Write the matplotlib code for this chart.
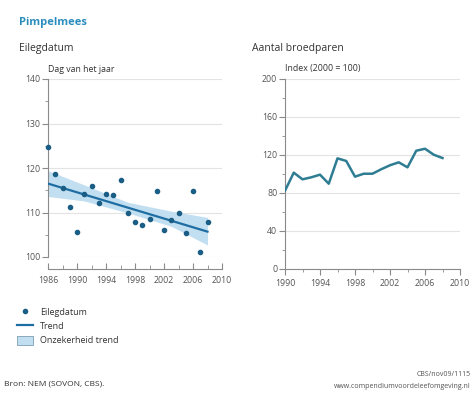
import matplotlib
matplotlib.use("Agg")
import matplotlib.pyplot as plt
from matplotlib.lines import Line2D
from matplotlib.patches import Patch
from matplotlib.ticker import MultipleLocator, FixedLocator

plt.rcParams['font.family'] = ['Open Sans', 'DejaVu Sans']

# Left panel: egg laying date (day of year)
egg_years = [1986, 1987, 1988, 1989, 1990, 1991, 1992, 1993, 1994, 1995, 1996,
             1997, 1998, 1999, 2000, 2001, 2002, 2003, 2004, 2005, 2006, 2007, 2008]
egg_days = [124.7, 118.7, 115.4, 111.2, 105.6, 114.1, 116.0, 112.2, 114.2, 114.0, 117.2,
            109.8, 107.8, 107.3, 108.6, 114.8, 106.1, 108.3, 110.0, 105.4, 114.8, 101.1, 107.8]
trend_years = [1986, 2008]
trend_vals = [116.5, 105.7]
band_years = [1986, 1991, 1997, 2003, 2008]
band_lower = [113.6, 112.6, 109.9, 106.9, 102.7]
band_upper = [119.4, 116.2, 112.3, 110.3, 108.9]
left_xticks = [1986, 1990, 1994, 1998, 2002, 2006, 2010]

# Right panel: breeding pairs index
pair_years = list(range(1990, 2009))
pair_index = [82.4, 101.4, 94.4, 96.5, 99.3, 89.8, 116.5, 113.7, 97.2, 100.3, 100.3,
              105.0, 109.2, 112.3, 107.0, 124.5, 126.6, 120.3, 116.8]
right_xticks = [1990, 1994, 1998, 2002, 2006, 2010]

title_color = '#2b8cbe'
dot_color = '#1b5e85'
trend_color = '#1f6ea3'
band_color = '#c2dff1'
line_color = '#2f7d93'
grid_color = '#e3e3e3'
axis_color = '#8a8a8a'
text_color = '#333333'
tick_color = '#555555'

W, H = 476, 396
fig = plt.figure(figsize=(W / 100, H / 100), dpi=100)

def fx(px):
    return px / W

def fy(py):
    return 1 - py / H

fig.text(fx(19), fy(22), 'Pimpelmees', color=title_color, fontsize=8, fontweight='bold', va='center')
fig.text(fx(19), fy(49), 'Eilegdatum', color=text_color, fontsize=7.5, va='center')
fig.text(fx(252), fy(49), 'Aantal broedparen', color=text_color, fontsize=7.5, va='center')
fig.text(fx(48), fy(69), 'Dag van het jaar', color=text_color, fontsize=6.3, va='center')
fig.text(fx(285), fy(69), 'Index (2000 = 100)', color=text_color, fontsize=6.3, va='center')

# ---- Left axes
axL = fig.add_axes([fx(48), fy(257), fx(222 - 48), (257 - 79) / H])
axL.fill_between(band_years, band_lower, band_upper, color=band_color, lw=0, zorder=2)
axL.plot(trend_years, trend_vals, color=trend_color, lw=1.6, zorder=3)
axL.scatter(egg_years, egg_days, s=9, color=dot_color, zorder=4, clip_on=False)
axL.set_xlim(1986, 2010)
axL.set_ylim(100, 140)
axL.yaxis.set_major_locator(MultipleLocator(10))
axL.yaxis.set_minor_locator(MultipleLocator(5))
axL.xaxis.set_major_locator(FixedLocator(left_xticks))
axL.xaxis.set_minor_locator(MultipleLocator(2))
axL.grid(axis='y', color=grid_color, lw=0.8, zorder=0)
axL.set_axisbelow(True)
for s in ['top', 'right']:
    axL.spines[s].set_visible(False)
axL.spines['left'].set_color(axis_color)
axL.spines['bottom'].set_color(axis_color)
axL.spines['bottom'].set_position(('outward', 8.5))
axL.tick_params(axis='y', which='major', direction='out', length=4, color=axis_color,
                labelsize=6.3, labelcolor=tick_color, pad=1.5)
axL.tick_params(axis='y', which='minor', direction='out', length=2, color=axis_color)
axL.tick_params(axis='x', which='major', direction='in', length=4, color=axis_color,
                labelsize=6.3, labelcolor=tick_color, pad=5)
axL.tick_params(axis='x', which='minor', direction='in', length=3, color=axis_color)

# ---- Right axes
axR = fig.add_axes([fx(285), fy(269), fx(460 - 285), (269 - 79) / H])
axR.plot(pair_years, pair_index, color=line_color, lw=1.8, zorder=3)
axR.set_xlim(1990, 2010)
axR.set_ylim(0, 200)
axR.yaxis.set_major_locator(MultipleLocator(40))
axR.yaxis.set_minor_locator(MultipleLocator(20))
axR.xaxis.set_major_locator(FixedLocator(right_xticks))
axR.xaxis.set_minor_locator(MultipleLocator(2))
axR.grid(axis='y', color=grid_color, lw=0.8, zorder=0)
axR.set_axisbelow(True)
for s in ['top', 'right']:
    axR.spines[s].set_visible(False)
axR.spines['left'].set_color(axis_color)
axR.spines['bottom'].set_color(axis_color)
axR.tick_params(axis='both', which='major', direction='out', length=4, color=axis_color,
                labelsize=6.3, labelcolor=tick_color, pad=1.5)
axR.tick_params(axis='both', which='minor', direction='out', length=2, color=axis_color)
axR.tick_params(axis='x', which='major', pad=3.5)

# ---- Legend
handles = [
    Line2D([], [], ls='none', marker='o', ms=3, color=dot_color),
    Line2D([], [], color=trend_color, lw=1.6),
    Patch(facecolor=band_color, edgecolor='#7a9fb5', lw=0.6),
]
labels = ['Eilegdatum', 'Trend', 'Onzekerheid trend']
fig.legend(handles, labels, loc='upper left', bbox_to_anchor=(fx(12), fy(303)),
           frameon=False, fontsize=6.5, labelcolor=text_color, handlelength=1.8,
           handleheight=1.3, labelspacing=0.45, handletextpad=0.8, borderpad=0)

# ---- Footer
fig.text(fx(4), fy(384), 'Bron: NEM (SOVON, CBS).', fontsize=6, color=text_color, va='center')
fig.text(fx(471), fy(374), 'CBS/nov09/1115', fontsize=5, color=tick_color, va='center', ha='right')
fig.text(fx(471), fy(386), 'www.compendiumvoordeleefomgeving.nl', fontsize=5, color=tick_color,
         va='center', ha='right')

fig.savefig('out.png', dpi=100)
